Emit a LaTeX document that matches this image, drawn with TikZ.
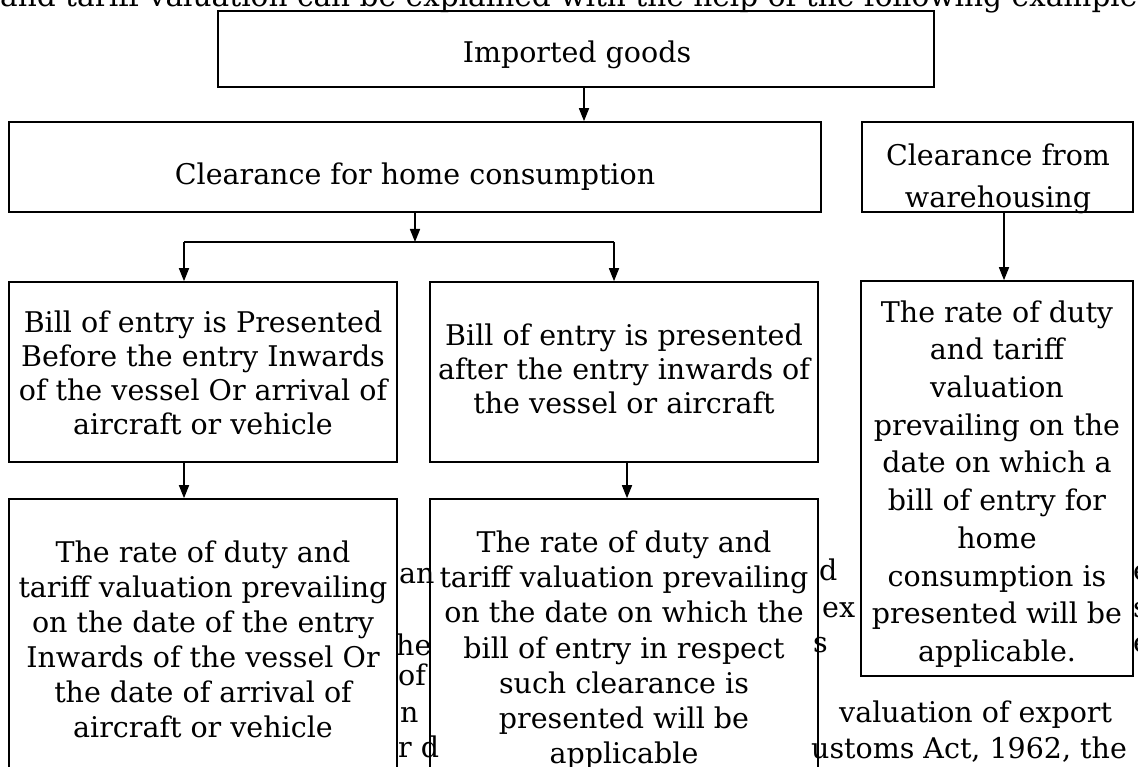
\documentclass[tikz,border=0pt]{standalone}
\usepackage{fontspec}
\setmainfont{DejaVu Serif}
\usetikzlibrary{arrows.meta}

\begin{document}
\begin{tikzpicture}[x=1pt,y=-1pt,
  box/.style={draw=black, line width=1.6pt, fill=white, rectangle, inner sep=0pt},
  flow/.style={-{Triangle[length=13pt,width=10pt]}, line width=1.6pt},
  lbl/.style={font=\fontsize{28.5}{#1}\selectfont, align=center, inner sep=0pt, anchor=north},
  lbl/.default=34,
  single/.style={font=\fontsize{28.5}{34}\selectfont, inner sep=0pt, anchor=base},
  page/.style={font=\fontsize{28.5}{35.5}\selectfont, anchor=base west, inner sep=0pt}
]
\useasboundingbox (0,0) rectangle (1138,767);
\clip (0,0) rectangle (1138,767);

% boxes
\node[box, minimum width=716pt, minimum height=76pt] (imp) at (576,49) {};
\node[box, minimum width=812pt, minimum height=90pt] (home) at (415,167) {};
\node[box, minimum width=271pt, minimum height=90pt] (wh) at (997.5,167) {};
\node[box, minimum width=388pt, minimum height=180pt] (b1) at (203,372) {};
\node[box, minimum width=388pt, minimum height=180pt] (b2) at (624,372) {};
\node[box, minimum width=272pt, minimum height=395pt] (w2) at (997,478.5) {};
\node[box, minimum width=388pt, minimum height=320pt] (c1) at (203,659) {};
\node[box, minimum width=388pt, minimum height=320pt] (c2) at (624,659) {};

% running text of the page showing between the boxes
\node[page, font=\fontsize{29.6}{35.5}\selectfont] (p0) at (0,7) {and tariff valuation can be explained with the help of the following example.};
\node[page] (p1) at (399,583) {an};
\node[page] (p2) at (396,655) {he};
\node[page] (p3) at (398,685) {of};
\node[page] (p4) at (400,722) {n};
\node[page] (p5) at (398,757) {r d};
\node[page] (p6) at (819,580) {d};
\node[page] (p7) at (822,617) {ex};
\node[page] (p8) at (813,652) {s};
\node[page] (p9) at (1133,580) {e};
\node[page] (p10) at (1133,617) {s};
\node[page] (p11) at (1133,652) {e};
\node[page] (p12) at (839,722) {valuation of export};
\node[page] (p13) at (811,758) {ustoms Act, 1962, the};

% box texts
\node[single] (timp) at (577,63) {Imported goods};
\node[single] (thome) at (415,185) {Clearance for home consumption};
\node[lbl=42] (twh) at (998,143.3) {Clearance from\\warehousing};
\node[lbl=34] (tb1) at (203,310.3) {Bill of entry is Presented\\Before the entry Inwards\\of the vessel Or arrival of\\aircraft or vehicle};
\node[lbl=34] (tb2) at (624,323.3) {Bill of entry is presented\\after the entry inwards of\\the vessel or aircraft};
\node[lbl=37.7] (tw2) at (997,300.3) {The rate of duty\\and tariff\\valuation\\prevailing on the\\date on which a\\bill of entry for\\home\\consumption is\\presented will be\\applicable.};
\node[lbl=35] (tc1) at (203,540.3) {The rate of duty and\\tariff valuation prevailing\\on the date of the entry\\Inwards of the vessel Or\\the date of arrival of\\aircraft or vehicle};
\node[lbl=35.3] (tc2) at (624,530.3) {The rate of duty and\\tariff valuation prevailing\\on the date on which the\\bill of entry in respect\\such clearance is\\presented will be\\applicable};

% connectors
\coordinate (split) at (415,242);
\draw[flow] ([xshift=8pt]imp.south) -- ([xshift=8pt]imp.south |- home.north);
\draw[flow] (home.south) -- (split);
\draw[line width=1.6pt] ([xshift=-19pt]b1.north |- split) -- ([xshift=-10pt]b2.north |- split);
\draw[flow] ([xshift=-19pt]b1.north |- split) -- ([xshift=-19pt]b1.north);
\draw[flow] ([xshift=-10pt]b2.north |- split) -- ([xshift=-10pt]b2.north);
\draw[flow] ([xshift=6.5pt]wh.south) -- ([xshift=6.5pt]wh.south |- w2.north);
\draw[flow] ([xshift=-19pt]b1.south) -- ([xshift=-19pt]c1.north);
\draw[flow] ([xshift=3pt]b2.south) -- ([xshift=3pt]c2.north);
\end{tikzpicture}
\end{document}
